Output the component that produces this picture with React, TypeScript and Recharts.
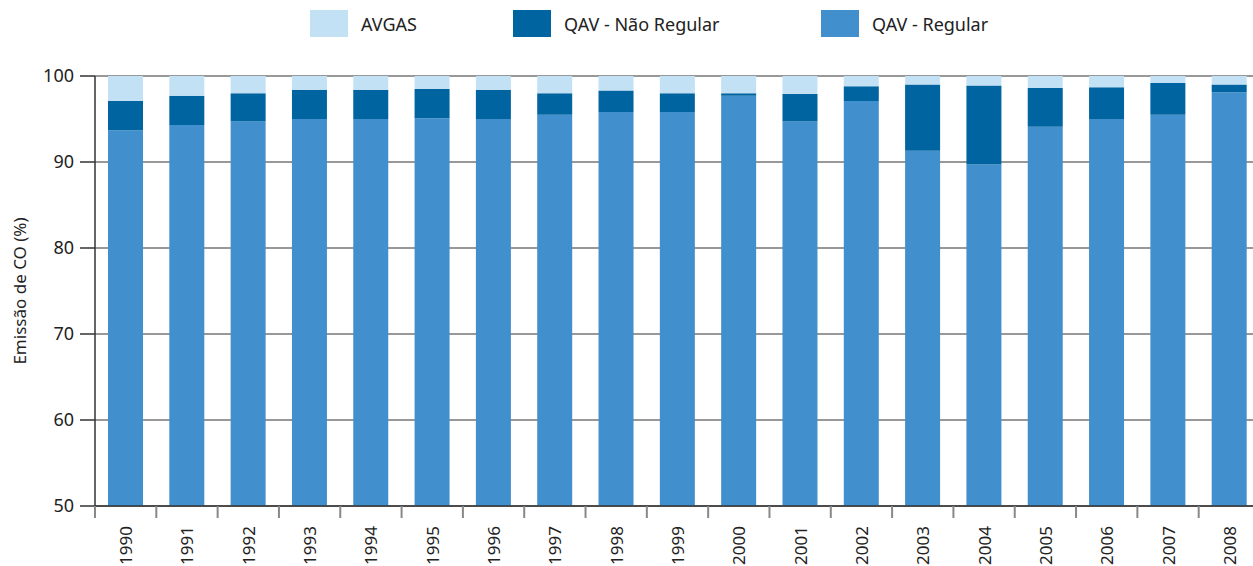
import { BarChart, Bar, XAxis, YAxis, CartesianGrid, Legend } from "recharts";

const years = [
  "1990", "1991", "1992", "1993", "1994", "1995", "1996", "1997", "1998", "1999",
  "2000", "2001", "2002", "2003", "2004", "2005", "2006", "2007", "2008",
];
const qavRegular = [
  93.7, 94.3, 94.7, 95.0, 95.0, 95.1, 95.0, 95.5, 95.8, 95.8,
  97.7, 94.7, 97.1, 91.3, 89.7, 94.1, 95.0, 95.5, 98.1,
];
const qavNaoRegular = [
  3.4, 3.4, 3.3, 3.4, 3.4, 3.4, 3.4, 2.5, 2.5, 2.2,
  0.3, 3.2, 1.7, 7.7, 9.2, 4.5, 3.7, 3.7, 0.9,
];
const avgas = [
  2.9, 2.3, 2.0, 1.6, 1.6, 1.5, 1.6, 2.0, 1.7, 2.0,
  2.0, 2.1, 1.2, 1.0, 1.1, 1.4, 1.3, 0.8, 1.0,
];
const yTicks = [50, 60, 70, 80, 90, 100];

const series = [
  { key: "avgas", name: "AVGAS", color: "#c3e1f5" },
  { key: "naoRegular", name: "QAV - Não Regular", color: "#0064a1" },
  { key: "regular", name: "QAV - Regular", color: "#4190cd" },
];

const data = years.map((year, i) => ({
  year,
  regular: qavRegular[i],
  naoRegular: qavNaoRegular[i],
  avgas: avgas[i],
}));

const FONT = "'Noto Sans', sans-serif";

function YearTick(props: any) {
  const { x, y, payload, width } = props;
  const half = width / years.length / 2;
  return (
    <g>
      <line x1={x - half} x2={x - half} y1={y} y2={y + 12} stroke="#888" strokeWidth={2} />
      <text
        x={x}
        y={y + 20}
        transform={`rotate(-90 ${x} ${y + 20})`}
        textAnchor="end"
        dominantBaseline="central"
        fontSize={17}
        fontFamily={FONT}
        fill="#222"
      >
        {payload.value}
      </text>
    </g>
  );
}

function TopLegend() {
  const spots = [310, 513, 821];
  return (
    <div style={{ position: "relative", height: 50, fontFamily: FONT }}>
      {series.map((s, i) => (
        <div key={s.key} style={{ position: "absolute", left: spots[i], top: 10, display: "flex", alignItems: "center" }}>
          <div style={{ width: 38, height: 27, background: s.color }} />
          <span style={{ marginLeft: 13, fontSize: 18, color: "#222" }}>{s.name}</span>
        </div>
      ))}
    </div>
  );
}

export default function App() {
  return (
    <div style={{ position: "fixed", left: 0, top: 0, width: 1253, height: 566, overflow: "hidden", background: "#fff" }}>
      <BarChart
        width={1260}
        height={566}
        data={data}
        margin={{ top: 26, right: 0, bottom: 0, left: 0 }}
      >
        <CartesianGrid vertical={false} stroke="#333" strokeWidth={1.2} />
        <XAxis
          dataKey="year"
          height={60}
          tickSize={0}
          tickMargin={0}
          tickLine={false}
          interval={0}
          axisLine={{ stroke: "#333", strokeWidth: 1.5 }}
          tick={<YearTick />}
        />
        <YAxis
          width={95}
          domain={[50, 100]}
          ticks={yTicks}
          allowDataOverflow
          tickSize={15}
          tickMargin={6}
          axisLine={{ stroke: "#333", strokeWidth: 1.5 }}
          tickLine={{ stroke: "#333", strokeWidth: 1.5 }}
          tick={{ fill: "#222", fontSize: 18, fontFamily: FONT }}
          label={{
            value: "Emissão de CO (%)",
            angle: -90,
            position: "insideLeft",
            dx: 15,
            style: { textAnchor: "middle", fill: "#222", fontSize: 17, fontFamily: FONT },
          }}
        />
        <Legend
          verticalAlign="top"
          height={50}
          wrapperStyle={{ top: 0, left: 0, width: 1260 }}
          content={() => <TopLegend />}
        />
        <Bar dataKey="regular" name="QAV - Regular" stackId="a" fill="#4190cd" barSize={35} isAnimationActive={false} />
        <Bar dataKey="naoRegular" name="QAV - Não Regular" stackId="a" fill="#0064a1" barSize={35} isAnimationActive={false} />
        <Bar dataKey="avgas" name="AVGAS" stackId="a" fill="#c3e1f5" barSize={35} isAnimationActive={false} />
      </BarChart>
    </div>
  );
}
